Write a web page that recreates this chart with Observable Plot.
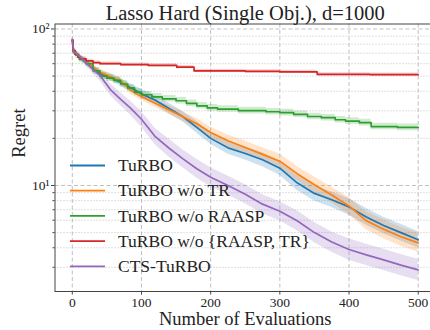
<!DOCTYPE html>
<html><head><meta charset="utf-8">
<script src="https://cdn.jsdelivr.net/npm/d3@7"></script>
<script src="https://cdn.jsdelivr.net/npm/@observablehq/plot@0.6"></script>
<style>body{margin:0;background:#fff}</style>
</head><body><div id="chart"></div>
<script>
// ---- data ----
const title = "Lasso Hard (Single Obj.), d=1000";
const xLabel = "Number of Evaluations";
const yLabel = "Regret";
const seriesNames = ["TuRBO", "TuRBO w/o TR", "TuRBO w/o RAASP", "TuRBO w/o {RAASP, TR}", "CTS-TuRBO"];
const colors = ["#1f77b4", "#ff7f0e", "#2ca02c", "#d62728", "#9467bd"];
const xTicks = [0, 100, 200, 300, 400, 500];
const yMajor = [10, 100];
const yMinor = [3, 4, 5, 6, 7, 8, 9, 20, 30, 40, 50, 60, 70, 80, 90];

// shared evaluation grid for the jagged curves
const evals = [0, 2, 10, 20, 30, 40, 55, 70, 85, 100, 120, 140, 160, 180, 200, 225, 250, 275, 300, 325, 350, 375, 400, 425, 450, 475, 500];
const turbo = [84, 71, 67, 61, 56, 51.7, 49.2, 45.5, 42, 38.5, 35, 31, 27.5, 23.5, 20, 17.4, 16.0, 14.6, 12.9, 10.4, 8.9, 8.1, 7.3, 6.3, 5.55, 5.0, 4.5];
const turboSpread = [2, 3, 3, 4, 4, 5, 5, 6, 6, 7, 7, 8, 8, 9, 9, 10, 10, 11, 11, 12, 12, 12, 13, 13, 13, 13, 13];
const noTR = [84, 71, 67, 61.5, 57, 53, 49.5, 46.5, 40.5, 37, 33.5, 30.4, 27.5, 24.8, 21.8, 19.3, 17.5, 15.8, 14.3, 11.9, 10.1, 8.7, 7.4, 5.95, 5.25, 4.7, 4.3];
const noTRSpread = [2, 3, 3, 4, 4, 5, 5, 5, 6, 6, 6, 7, 7, 8, 8, 9, 10, 10, 11, 11, 12, 12, 13, 14, 15, 15, 15];
const cts = [86, 72, 67, 61, 55, 50.5, 41, 35.5, 31, 26.5, 20.5, 17.3, 14.8, 12.8, 11.3, 10.0, 8.8, 7.6, 6.85, 5.95, 5.0, 4.35, 3.9, 3.6, 3.35, 3.1, 2.89];
const ctsSpread = [2, 3, 4, 5, 6, 8, 9, 10, 11, 12, 13, 14, 14, 15, 15, 15, 15, 15, 15, 16, 16, 16, 17, 17, 17, 17, 17];

// step curves
const noRaaspEvals = [0, 1, 5, 10, 15, 20, 30, 40, 50, 60, 70, 80, 90, 100, 115, 130, 150, 165, 180, 195, 210, 240, 280, 300, 320, 340, 360, 380, 395, 415, 432, 470, 500];
const noRaasp = [85, 72, 68, 64, 63, 60, 54, 50, 48.5, 47, 44.5, 42, 39.5, 38, 36.8, 35.8, 34.8, 33.5, 32.3, 31.3, 30.8, 30.1, 29.6, 29.2, 28.5, 27.6, 27.1, 26.3, 25.8, 25.2, 23.8, 23.5, 23.5];
const noRaaspSpread = 5;
const noBothEvals = [0, 1, 4, 8, 12, 20, 30, 40, 70, 110, 151, 176, 250, 300, 354, 430, 500];
const noBoth = [85, 73, 69, 66, 64.5, 62.5, 61, 60, 59.2, 58.5, 57, 54, 53.6, 53.2, 51.3, 51.1, 51];
const noBothSpread = 2.5;

// ---- build tables ----
function rows(name, es, vs, spread) {
  return es.map((e, i) => {
    const s = (Array.isArray(spread) ? spread[i] : spread) / 100;
    return {name, e, v: vs[i], lo: vs[i] / (1 + s), hi: vs[i] * (1 + s)};
  });
}
const series = [
  {rows: rows(seriesNames[0], evals, turbo, turboSpread), color: colors[0], curve: "linear"},
  {rows: rows(seriesNames[1], evals, noTR, noTRSpread), color: colors[1], curve: "linear"},
  {rows: rows(seriesNames[2], noRaaspEvals, noRaasp, noRaaspSpread), color: colors[2], curve: "step-after"},
  {rows: rows(seriesNames[3], noBothEvals, noBoth, noBothSpread), color: colors[3], curve: "step-after"},
  {rows: rows(seriesNames[4], evals, cts, ctsSpread), color: colors[4], curve: "linear"}
];

const grid = {stroke: "#b0b0b0", strokeOpacity: 1, strokeWidth: 0.8};
const font = "'Liberation Serif', serif";

const plot = Plot.plot({
  width: 430, height: 330,
  marginLeft: 54.5, marginRight: -5, marginTop: 23.5, marginBottom: 39,
  style: {fontFamily: font, background: "white", color: "#222", overflow: "hidden"},
  x: {domain: [-25, 525]},
  y: {type: "log", domain: [2.102, 107.6]},
  marks: [
    Plot.gridY(yMinor, {...grid, strokeDasharray: "1,2"}),
    Plot.gridY(yMajor, {...grid, strokeDasharray: "4,2.5"}),
    Plot.gridX(xTicks, {...grid, strokeDasharray: "4,2.5"}),
    ...series.map(s => Plot.areaY(s.rows, {x: "e", y1: "lo", y2: "hi", fill: s.color, fillOpacity: 0.22, curve: s.curve, clip: true})),
    ...series.map(s => Plot.lineY(s.rows, {x: "e", y: "v", stroke: s.color, strokeWidth: 1.7, curve: s.curve, clip: true})),
    Plot.frame({stroke: "#444", strokeWidth: 1}),
    Plot.axisX(xTicks, {tickSize: 3.5, tickPadding: 2, fontSize: 13.5, label: null, stroke: "#444", fill: "#222"}),
    Plot.axisY(yMajor, {tickSize: 3.5, tickPadding: 2, fontSize: 13.5, label: null, stroke: "#444", fill: "#222",
      tickFormat: d => d === 10 ? "10\u00B9" : "10\u00B2"}),
    Plot.axisY(yMinor, {tickSize: 2, tickFormat: () => "", label: null, stroke: "#444"}),
    Plot.text([title], {text: d => d, frameAnchor: "top", lineAnchor: "bottom", dy: -4.5, fontSize: 20.5, fill: "#222"}),
    Plot.text([xLabel], {text: d => d, frameAnchor: "bottom", lineAnchor: "bottom", dy: 33, fontSize: 18.5, fill: "#222"}),
    Plot.text([yLabel], {text: d => d, frameAnchor: "left", rotate: -90, lineAnchor: "bottom", dx: -30.5, fontSize: 18.5, fill: "#222"})
  ]
});

// legend (inside the frame, lower left)
const svg = d3.select(plot);
const lg = svg.append("g").attr("font-family", font).attr("font-size", 17.5).attr("fill", "#222").attr("text-anchor", "start");
seriesNames.forEach((n, i) => {
  const y = 165.5 + i * 25.2;
  lg.append("line").attr("x1", 70).attr("x2", 105).attr("y1", y).attr("y2", y)
    .attr("stroke", colors[i]).attr("stroke-width", 1.8);
  lg.append("text").attr("x", 118).attr("y", y).attr("dy", "0.33em").attr("text-anchor", "start").text(n);
});

document.getElementById("chart").appendChild(plot);
</script>
</body></html>
